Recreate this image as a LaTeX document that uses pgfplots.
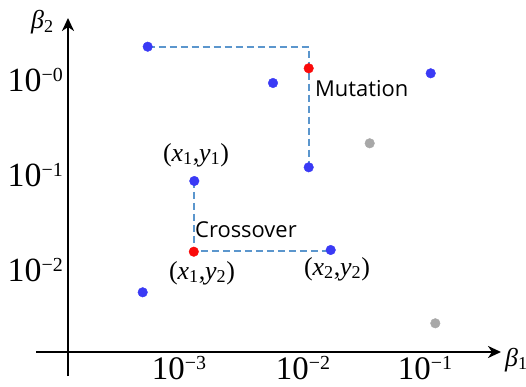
\documentclass[border=0pt]{standalone}
\usepackage{fontspec}
\setmainfont{Liberation Serif}
\newfontfamily\sansf{Open Sans}
\usepackage{pgfplots}
\pgfplotsset{compat=1.18}
\usetikzlibrary{arrows.meta}
\definecolor{ptblue}{RGB}{58,58,245}
\definecolor{ptred}{RGB}{250,10,10}
\definecolor{ptgray}{RGB}{168,168,168}
\definecolor{dashc}{RGB}{91,150,205}
\newcommand{\tl}[1]{10\raisebox{10bp}{\fontsize{20}{20}\selectfont −#1}}
\newcommand{\pr}[2]{(\textit{x}\textsubscript{#1},\textit{y}\textsubscript{#2})}
\begin{document}
\begin{tikzpicture}
\begin{axis}[
  scale only axis, width=465bp, height=358bp,
  xmin=-32, xmax=433, ymin=-24, ymax=334,
  axis lines=middle, clip=false,
  axis line style={line width=2.4bp, -{Stealth[length=13bp,width=12bp,inset=4bp]}},
  major tick length=0pt,
  xtick={111,235,357}, xticklabels={\tl{3},\tl{2},\tl{1}},
  ytick={70,165,260}, yticklabels={\tl{2},\tl{1},\tl{0}},
  xticklabel style={font=\fontsize{33}{33}\selectfont, anchor=base, inner sep=0pt, yshift=-27bp},
  yticklabel style={font=\fontsize{34}{34}\selectfont, anchor=base east, inner sep=0pt, xshift=-5bp},
]
% dashed operator paths
\addplot[dashc, line width=1.8bp, dash pattern=on 7bp off 4bp] coordinates {(79.7,305.3) (240.7,305.3) (240.7,184.7)};
\addplot[dashc, line width=1.8bp, dash pattern=on 7bp off 4bp] coordinates {(125.8,171) (125.8,101) (262.7,101)};
% population
\addplot[only marks, mark=*, mark size=4.8bp, color=ptblue, mark options={draw=none, fill=ptblue}] coordinates {
 (79.7,305.3) (205,269) (362.7,278.7) (240.7,184.7) (126.3,171) (262.7,102) (74.7,59.7)};
\addplot[only marks, mark=*, mark size=4.8bp, color=ptred, mark options={draw=none, fill=ptred}] coordinates {
 (240.7,283.7) (125.8,100.3)};
\addplot[only marks, mark=*, mark size=4.8bp, color=ptgray, mark options={draw=none, fill=ptgray}] coordinates {
 (301.7,208.7) (367.3,28.7)};
% labels
\node[font=\fontsize{26}{26}\selectfont, inner sep=0pt] at (axis cs:128,197) {\pr11};
\node[font=\fontsize{26}{26}\selectfont, inner sep=0pt] at (axis cs:134,79) {\pr12};
\node[font=\fontsize{26}{26}\selectfont, inner sep=0pt] at (axis cs:269,83) {\pr22};
\node[font=\sansf\fontsize{22}{22}\selectfont, anchor=base west, inner sep=0pt] at (axis cs:127,114) {Crossover};
\node[font=\sansf\fontsize{22}{22}\selectfont, anchor=base west, inner sep=0pt] at (axis cs:247,255) {Mutation};
\node[font=\fontsize{26}{26}\selectfont, anchor=base west, inner sep=0pt] at (axis cs:-37,323) {\textit{β}\textsubscript{2}};
\node[font=\fontsize{26}{26}\selectfont, anchor=base west, inner sep=0pt] at (axis cs:437,-14) {\textit{β}\textsubscript{1}};
\coordinate (bl) at (axis cs:-68,-35);
\coordinate (tr) at (axis cs:458,352);
\end{axis}
\pgfresetboundingbox
\path (bl) rectangle (tr);
\end{tikzpicture}
\end{document}
